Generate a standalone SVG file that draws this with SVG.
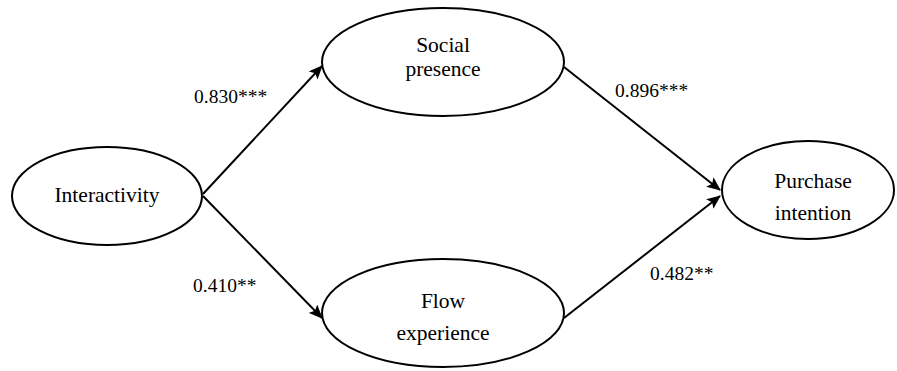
<svg xmlns="http://www.w3.org/2000/svg" width="897" height="371" viewBox="0 0 897 371">
<style>
.node{fill:#fff;stroke:#000;stroke-width:2}
.t{font-size:21.5px;fill:#000;text-anchor:middle}
.lbl{font-size:19.5px;fill:#000}
.edge{stroke:#000;stroke-width:2;fill:none;marker-end:url(#ah)}
</style>
<defs>
<marker id="ah" viewBox="0 0 14 12" refX="13" refY="6" markerWidth="14" markerHeight="12" markerUnits="userSpaceOnUse" orient="auto">
<path d="M0,0 L14,6 L0,12 L3,6 Z" fill="#000"/>
</marker>
</defs>
<rect width="897" height="371" fill="#fff"/>
<g id="connectors">
<line class="edge" x1="203" y1="194" x2="322" y2="66"/>
<line class="edge" x1="203" y1="196" x2="322" y2="318"/>
<line class="edge" x1="564" y1="67" x2="720" y2="190"/>
<line class="edge" x1="564" y1="318" x2="720" y2="196"/>
</g>
<g font-family="'Liberation Serif', 'Times New Roman', 'DejaVu Serif', serif">
<g id="interactivity">
<ellipse class="node" cx="107" cy="196" rx="95" ry="49"/>
<text class="t" x="107" y="202">Interactivity</text>
</g>
<g id="social-presence">
<ellipse class="node" cx="443" cy="62" rx="121" ry="54"/>
<text class="t" x="443" y="52">Social</text>
<text class="t" x="443" y="76">presence</text>
</g>
<g id="flow-experience">
<ellipse class="node" cx="443" cy="313" rx="121" ry="54"/>
<text class="t" x="443" y="308">Flow</text>
<text class="t" x="443" y="340">experience</text>
</g>
<g id="purchase-intention">
<ellipse class="node" cx="808" cy="190" rx="86" ry="49"/>
<text class="t" x="813" y="188">Purchase</text>
<text class="t" x="813" y="220">intention</text>
</g>
<g id="labels">
<text class="lbl" x="194" y="103">0.830***</text>
<text class="lbl" x="615" y="97">0.896***</text>
<text class="lbl" x="193" y="292">0.410**</text>
<text class="lbl" x="650" y="280">0.482**</text>
</g>
</g>
</svg>
